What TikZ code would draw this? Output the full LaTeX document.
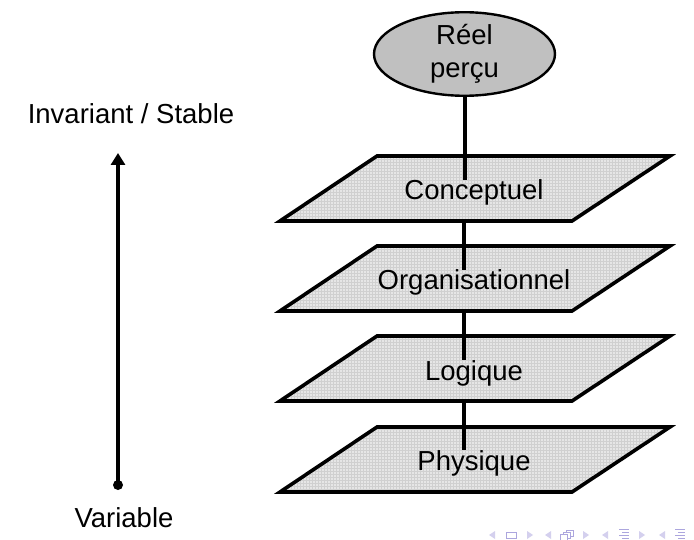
\documentclass[tikz,border=0pt]{standalone}
\usepackage{fontspec}
\setmainfont{Liberation Sans}
\usetikzlibrary{shapes.geometric,arrows.meta}
\definecolor{panelfill}{RGB}{230,230,230}
\definecolor{gridc}{RGB}{208,208,208}
\definecolor{ellfill}{RGB}{192,192,192}
\definecolor{navc}{RGB}{172,166,222}
\definecolor{navl}{RGB}{212,208,238}
\newcommand\mypanel[1]{%
  \begin{scope}
    \clip (377,#1) -- (670,#1) -- (572,#1+65) -- (280,#1+65) -- cycle;
    \fill[panelfill] (270,#1-5) rectangle (680,#1+70);
    \draw[gridc, line width=0.35pt, step=3pt] (270,#1-5) grid (680,#1+70);
  \end{scope}
  \draw[panelborder] (377,#1) -- (670,#1) -- (572,#1+65) -- (280,#1+65) -- cycle;
}
\begin{document}
\begin{tikzpicture}[x=1pt,y=-1pt,
  txt/.style={font=\fontsize{27.5}{33}\selectfont, inner sep=0pt},
  panelborder/.style={line width=3.6pt, line join=miter},
  conn/.style={line width=4pt},
  navtri/.style={fill=navl},
  navicon/.style={draw=navc, line width=1pt}]
\useasboundingbox (0,0) rectangle (694,540);
\fill[white] (0,0) rectangle (694,540);

% panels
\mypanel{156}
\mypanel{246}
\mypanel{336}
\mypanel{427}
\coordinate (b1) at (464,221);
\coordinate (b2) at (464,311);
\coordinate (b3) at (464,401);

% ellipse
\node[ellipse, draw, line width=2.4pt, fill=ellfill, minimum width=181pt, minimum height=75pt, inner sep=0pt, align=center, txt] (ell) at (464.5,54) {Réel\\perçu};

% labels
\node[txt, anchor=base] (l1) at (474,200) {Conceptuel};
\node[txt, anchor=base] (l2) at (474,290) {Organisationnel};
\node[txt, anchor=base] (l3) at (474,380) {Logique};
\node[txt, anchor=base] (l4) at (474,470) {Physique};

% connectors
\draw[conn] (ell.south) -- (ell.south |- l1.north);
\draw[conn] (b1) -- (b1 |- l2.north);
\draw[conn] (b2) -- (b2 |- l3.north);
\draw[conn] (b3) -- (b3 |- l4.north);

% left axis
\node[txt, anchor=base] (inv) at (131,124) {Invariant / Stable};
\node[txt, anchor=base] (var) at (124,527) {Variable};
\node[circle, fill, inner sep=0pt, minimum size=10pt] (vdot) at (118,485) {};
\coordinate (vtop) at (118,153);
\draw[line width=3.2pt, -{Triangle[width=14pt,length=12pt]}] (vdot.center) -- (vtop);

% navigation symbols
\fill[navtri] (495,531) -- (495,539) -- (489,535) -- cycle;
\draw[navicon] (506,532) rectangle (516,538);
\fill[navtri] (527,531) -- (527,539) -- (533,535) -- cycle;
\fill[navtri] (551,531) -- (551,539) -- (545,535) -- cycle;
\draw[navicon, fill=white] (566,530) rectangle (573,536);
\draw[navicon, fill=white] (563,532) rectangle (570,538);
\draw[navicon, fill=white] (560,534) rectangle (567,540);
\fill[navtri] (583,531) -- (583,539) -- (589,535) -- cycle;
\fill[navtri] (608,531) -- (608,539) -- (602,535) -- cycle;
\draw[navicon] (619,529) -- (629,529) (622,532) -- (629,532) (619,535) -- (629,535) (622,538) -- (629,538);
\draw[navl, line width=1pt] (618,541) -- (630,541);
\fill[navtri] (639,531) -- (639,539) -- (645,535) -- cycle;
\fill[navtri] (665,531) -- (665,539) -- (659,535) -- cycle;
\draw[navicon] (675,529) -- (685,529) (678,532) -- (685,532) (675,535) -- (685,535) (678,538) -- (685,538);
\draw[navl, line width=1pt] (674,541) -- (686,541);
\end{tikzpicture}
\end{document}
